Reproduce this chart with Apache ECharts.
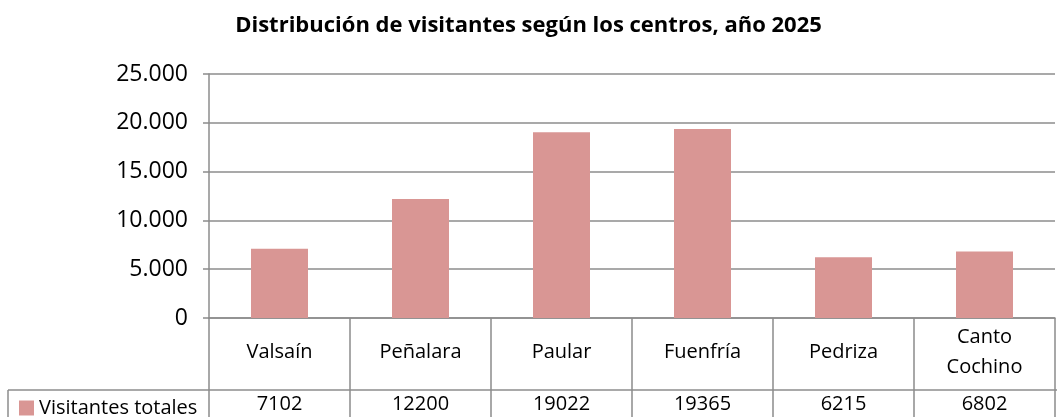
<!DOCTYPE html>
<html>
<head>
<meta charset="utf-8">
<script src="https://cdn.jsdelivr.net/npm/echarts@6/dist/echarts.min.js"></script>
<style>
  html, body { margin: 0; padding: 0; background: #fff; }
  #chart { width: 1057px; height: 417px; }
</style>
</head>
<body>
<div id="chart"></div>
<script>
var centros = ["Valsaín", "Peñalara", "Paular", "Fuenfría", "Pedriza", "Canto\nCochino"];
var visitantes = [7102, 12200, 19022, 19365, 6215, 6802];
var serieNombre = "Visitantes totales";
var titulo = "Distribución de visitantes según los centros, año 2025";

var gris = "#8c8c8c";
var fuente = "'Open Sans', 'Liberation Sans', sans-serif";

function miles(v) {
  return String(v).replace(/\B(?=(\d{3})+(?!\d))/g, ".");
}

var myChart = echarts.init(document.getElementById("chart"));
var option = {
  animation: false,
  title: {
    text: titulo,
    left: "center",
    top: 10,
    textStyle: { fontFamily: fuente, fontSize: 22, fontWeight: "bold", color: "#000" },
  },
  legend: {
    left: 14,
    top: 393,
    icon: "rect",
    itemWidth: 15,
    itemHeight: 15,
    itemGap: 6,
    textStyle: { fontFamily: fuente, fontSize: 20, color: "#000" },
    data: [serieNombre],
  },
  grid: { left: 209, right: 2, top: 74, bottom: 99 },
  xAxis: [
    {
      type: "category",
      data: centros,
      axisLine: { lineStyle: { color: gris, width: 1.5 } },
      axisTick: { show: true, length: 100, lineStyle: { color: gris, width: 1.5 } },
      axisLabel: {
        interval: 0,
        margin: 34,
        verticalAlign: "middle",
        lineHeight: 30,
        fontFamily: fuente,
        fontSize: 20,
        color: "#000",
      },
    },
    {
      type: "category",
      position: "bottom",
      offset: 72,
      data: visitantes.map(String),
      axisLine: { show: false },
      axisTick: { show: false },
      axisLabel: {
        interval: 0,
        margin: 14,
        verticalAlign: "middle",
        fontFamily: fuente,
        fontSize: 20,
        color: "#000",
      },
    },
  ],
  yAxis: {
    type: "value",
    min: 0,
    max: 25000,
    interval: 5000,
    axisLine: { show: true, lineStyle: { color: gris, width: 1.5 } },
    axisTick: { show: true, length: 6, lineStyle: { color: gris, width: 1.5 } },
    splitLine: { lineStyle: { color: gris, width: 1.5 } },
    axisLabel: {
      margin: 21,
      fontFamily: fuente,
      fontSize: 23,
      color: "#000",
      formatter: miles,
    },
  },
  series: [
    {
      name: serieNombre,
      type: "bar",
      data: visitantes,
      barWidth: 57,
      itemStyle: { color: "#d99694" },
    },
  ],
  graphic: [
    { type: "line", shape: { x1: 8, y1: 390, x2: 1057, y2: 390 }, style: { stroke: gris, lineWidth: 1.5 } },
    { type: "line", shape: { x1: 8, y1: 390, x2: 8, y2: 417 }, style: { stroke: gris, lineWidth: 1.5 } },
  ],
};
myChart.setOption(option);
</script>
</body>
</html>
